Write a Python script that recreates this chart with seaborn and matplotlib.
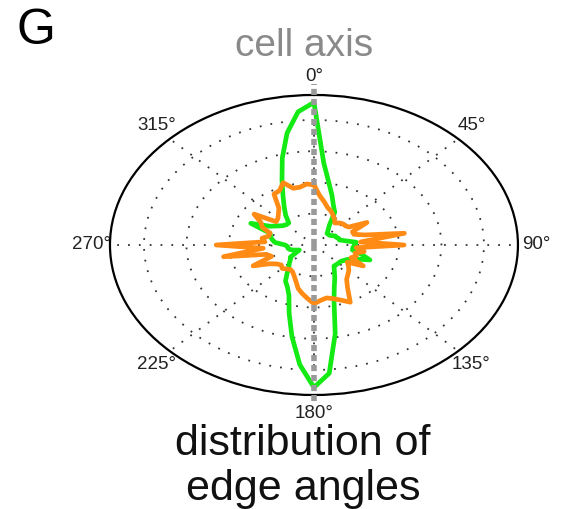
import numpy as np
import pandas as pd
import matplotlib
matplotlib.use("Agg")
import matplotlib.pyplot as plt
import seaborn as sns

# bin centres (degrees, clockwise from the cell axis)
angles_deg = list(range(0, 360, 5))

green_r = [22.8, 13.2, 10.1, 8.2, 6.7, 5.8, 3.6, 2.9, 2.4, 2.4, 2.4, 2.6,
           2.9, 2.9, 3.1, 3.1, 3.8, 5.0, 4.8, 4.6, 4.6, 5.8, 7.0, 5.3,
           4.6, 4.3, 4.1, 4.1, 4.1, 4.1, 4.8, 5.8, 7.0, 9.1, 14.4, 20.6,
           22.8, 19.2, 14.9, 11.3, 8.6, 7.4, 6.7, 5.5, 4.6, 4.1, 3.6, 3.4,
           2.4, 1.9, 2.4, 2.9, 3.1, 3.1, 3.4, 4.6, 5.0, 5.3, 5.5, 8.2,
           6.0, 5.3, 4.8, 4.6, 4.6, 5.8, 7.0, 8.6, 11.0, 14.4, 18.2, 21.4]

orange_r = [9.6, 7.9, 7.0, 6.2, 5.8, 5.3, 4.8, 4.3, 4.6, 4.8, 4.8, 5.0,
            7.2, 5.0, 5.0, 6.2, 10.8, 5.5, 10.6, 5.0, 6.0, 5.0, 5.3, 4.8,
            6.7, 4.8, 5.3, 5.8, 6.2, 6.7, 7.9, 10.1, 9.4, 8.9, 8.6, 8.9,
            9.4, 8.6, 7.9, 7.2, 6.2, 5.5, 5.0, 4.8, 5.0, 5.3, 5.0, 5.3,
            6.0, 7.9, 5.3, 5.8, 10.8, 6.0, 11.5, 5.8, 6.2, 5.5, 5.5, 6.7,
            7.2, 8.6, 5.8, 6.0, 6.5, 7.2, 9.4, 9.6, 10.6, 9.4, 9.4, 9.8]

ring_values = [5, 10, 15, 20]
r_max = 24
theta_ticks = [0, 45, 90, 135, 180, 225, 270, 315]
theta_labels = ["0°", "45°", "90°", "135°", "180°", "225°", "270°", "315°"]

sns.set_style("white")
plt.rcParams["font.family"] = ["Liberation Sans", "DejaVu Sans"]

fig = plt.figure(figsize=(5.66, 5.09), dpi=100)
ax = fig.add_axes([0.1943, 0.224, 0.7208, 0.5894], projection="polar")
ax.set_aspect("auto")
ax.set_theta_zero_location("N")
ax.set_theta_direction(-1)


def closed(vals):
    th = np.deg2rad(angles_deg + [angles_deg[0]])
    rr = list(vals) + [vals[0]]
    return pd.DataFrame({"theta": th, "r": rr})


dg = closed(green_r)
do = closed(orange_r)

sns.lineplot(data=dg, x="theta", y="r", sort=False, ax=ax, color="#14ea14",
             linewidth=3.4, estimator=None, zorder=3)
sns.lineplot(data=do, x="theta", y="r", sort=False, ax=ax, color="#ff8a14",
             linewidth=3.4, estimator=None, zorder=4)

# cell axis
ax.plot([0, 0], [0, r_max * 1.07], color="#9a9a9a", linestyle=(0, (1.1, 0.7)),
        linewidth=4.0, clip_on=False, zorder=5)
ax.plot([np.pi, np.pi], [0, r_max * 1.04], color="#9a9a9a", linestyle=(0, (1.1, 0.7)),
        linewidth=4.0, clip_on=False, zorder=5)

ax.set_ylim(0, r_max)
ax.set_rgrids(ring_values, labels=[""] * len(ring_values))
ax.set_thetagrids(theta_ticks, labels=theta_labels)
ax.grid(True, linestyle=(0, (1, 5)), color="#333333", linewidth=1.3)
ax.tick_params(axis="x", labelsize=13.5, colors="#222222", pad=3)
ax.set_xlabel("")
ax.set_ylabel("")
ax.spines["polar"].set_color("black")
ax.spines["polar"].set_linewidth(1.6)

fig.text(0.537, 0.889, "cell axis", ha="center", va="baseline", fontsize=28,
         color="#8a8a8a")
fig.text(0.535, 0.128, "distribution of", ha="center", va="center", fontsize=31,
         color="#111111")
fig.text(0.535, 0.040, "edge angles", ha="center", va="center", fontsize=31,
         color="#111111")
fig.text(0.03, 0.94, "G", ha="left", va="center", fontsize=36, color="black")

fig.savefig("out.png", dpi=100)
